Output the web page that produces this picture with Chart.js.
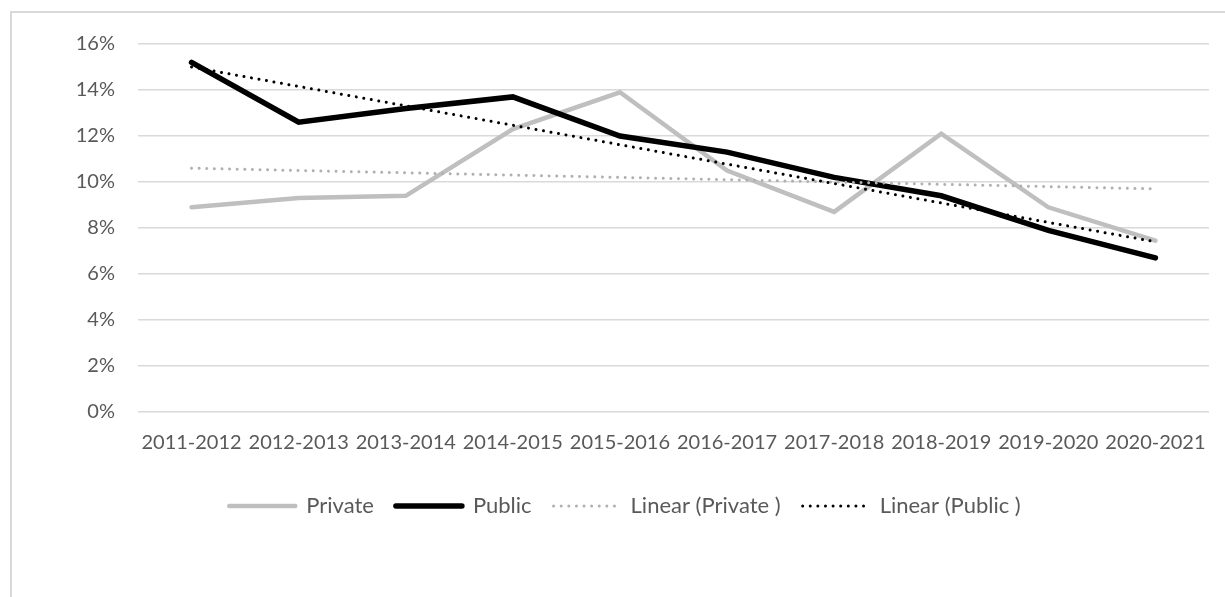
<!DOCTYPE html>
<html>
<head>
<meta charset="utf-8">
<script src="https://cdn.jsdelivr.net/npm/chart.js@4/dist/chart.umd.min.js"></script>
<style>
  html, body { margin: 0; padding: 0; background: #ffffff; }
  #wrap { position: relative; width: 1225px; height: 597px; overflow: hidden; }
  #frame {
    position: absolute; left: 10px; top: 11px; width: 1300px; height: 700px;
    border-left: 2px solid #d9d9d9; border-top: 2px solid #d9d9d9;
  }
  canvas { position: absolute; left: 0; top: 0; }
</style>
</head>
<body>
<div id="wrap">
  <div id="frame"></div>
  <canvas id="chart" width="1225" height="597"></canvas>
</div>
<script>
// School years on the category axis
const categories = [
  '2011-2012', '2012-2013', '2013-2014', '2014-2015', '2015-2016',
  '2016-2017', '2017-2018', '2018-2019', '2019-2020', '2020-2021'
];

// Rates in percent
const privateRates = [8.9, 9.3, 9.4, 12.3, 13.9, 10.5, 8.7, 12.1, 8.9, 7.45];
const publicRates  = [15.2, 12.6, 13.2, 13.7, 12.0, 11.3, 10.2, 9.4, 7.9, 6.7];

// Linear trend lines: value at the first and at the last school year
const privateTrendEnds = [10.6, 9.7];
const publicTrendEnds  = [15.0, 7.4];

// Value axis
const yMin = 0;
const yMax = 16;
const yStep = 2;

const textColor = '#595959';
const baseFont = { family: "Lato, 'Open Sans', sans-serif", size: 20 };
const legendFont = { family: "Lato, 'Open Sans', sans-serif", size: 22 };

function trendPoints(ends) {
  return [
    { x: categories[0], y: ends[0] },
    { x: categories[categories.length - 1], y: ends[1] }
  ];
}

const dotDash = [0.01, 7.6];

// Legend entries drawn as short line samples carrying each dataset's own stroke style
function lineLegendLabels(chart) {
  const items = Chart.defaults.plugins.legend.labels.generateLabels(chart);
  return items.map((item) => {
    const ds = chart.data.datasets[item.datasetIndex];
    item.lineDash = ds.borderDash || [];
    item.lineCap = ds.borderCapStyle || 'butt';
    item.lineWidth = ds.borderWidth;
    item.strokeStyle = ds.borderColor;
    item.fillStyle = ds.borderColor;
    return item;
  });
}

new Chart(document.getElementById('chart').getContext('2d'), {
  type: 'line',
  data: {
    labels: categories,
    datasets: [
      {
        label: 'Private',
        data: privateRates,
        borderColor: '#bfbfbf',
        backgroundColor: '#bfbfbf',
        borderWidth: 4.5,
        borderCapStyle: 'round',
        pointRadius: 0,
        tension: 0,
        order: 4
      },
      {
        label: 'Public',
        data: publicRates,
        borderColor: '#000000',
        backgroundColor: '#000000',
        borderWidth: 5.5,
        borderCapStyle: 'round',
        pointRadius: 0,
        tension: 0,
        order: 3
      },
      {
        label: 'Linear (Private )',
        data: trendPoints(privateTrendEnds),
        borderColor: '#b0b0b0',
        backgroundColor: '#b0b0b0',
        borderWidth: 3,
        borderDash: dotDash,
        borderCapStyle: 'round',
        pointRadius: 0,
        order: 2
      },
      {
        label: 'Linear (Public )',
        data: trendPoints(publicTrendEnds),
        borderColor: '#000000',
        backgroundColor: '#000000',
        borderWidth: 3,
        borderDash: dotDash,
        borderCapStyle: 'round',
        pointRadius: 0,
        order: 1
      }
    ]
  },
  options: {
    responsive: false,
    animation: false,
    devicePixelRatio: 1,
    layout: { padding: { left: 41, right: 16, top: 44, bottom: 70 } },
    plugins: {
      tooltip: { enabled: false },
      legend: {
        position: 'bottom',
        labels: {
          usePointStyle: true,
          pointStyle: 'line',
          pointStyleWidth: 66,
          padding: 22,
          color: textColor,
          font: legendFont,
          generateLabels: lineLegendLabels,
          sort: (a, b) => a.datasetIndex - b.datasetIndex
        }
      }
    },
    scales: {
      x: {
        offset: true,
        grid: { display: false },
        border: { display: false },
        ticks: {
          color: textColor,
          font: baseFont,
          padding: 11,
          maxRotation: 0,
          autoSkip: false
        },
        afterFit(scale) { scale.height = 61; }
      },
      y: {
        min: yMin,
        max: yMax,
        border: { display: false },
        grid: { color: '#d9d9d9', lineWidth: 1.5, drawTicks: false },
        ticks: {
          stepSize: yStep,
          color: textColor,
          font: baseFont,
          padding: 23,
          callback: (v) => v + '%'
        },
        afterFit(scale) { scale.width = 97; }
      }
    }
  }
});
</script>
</body>
</html>
